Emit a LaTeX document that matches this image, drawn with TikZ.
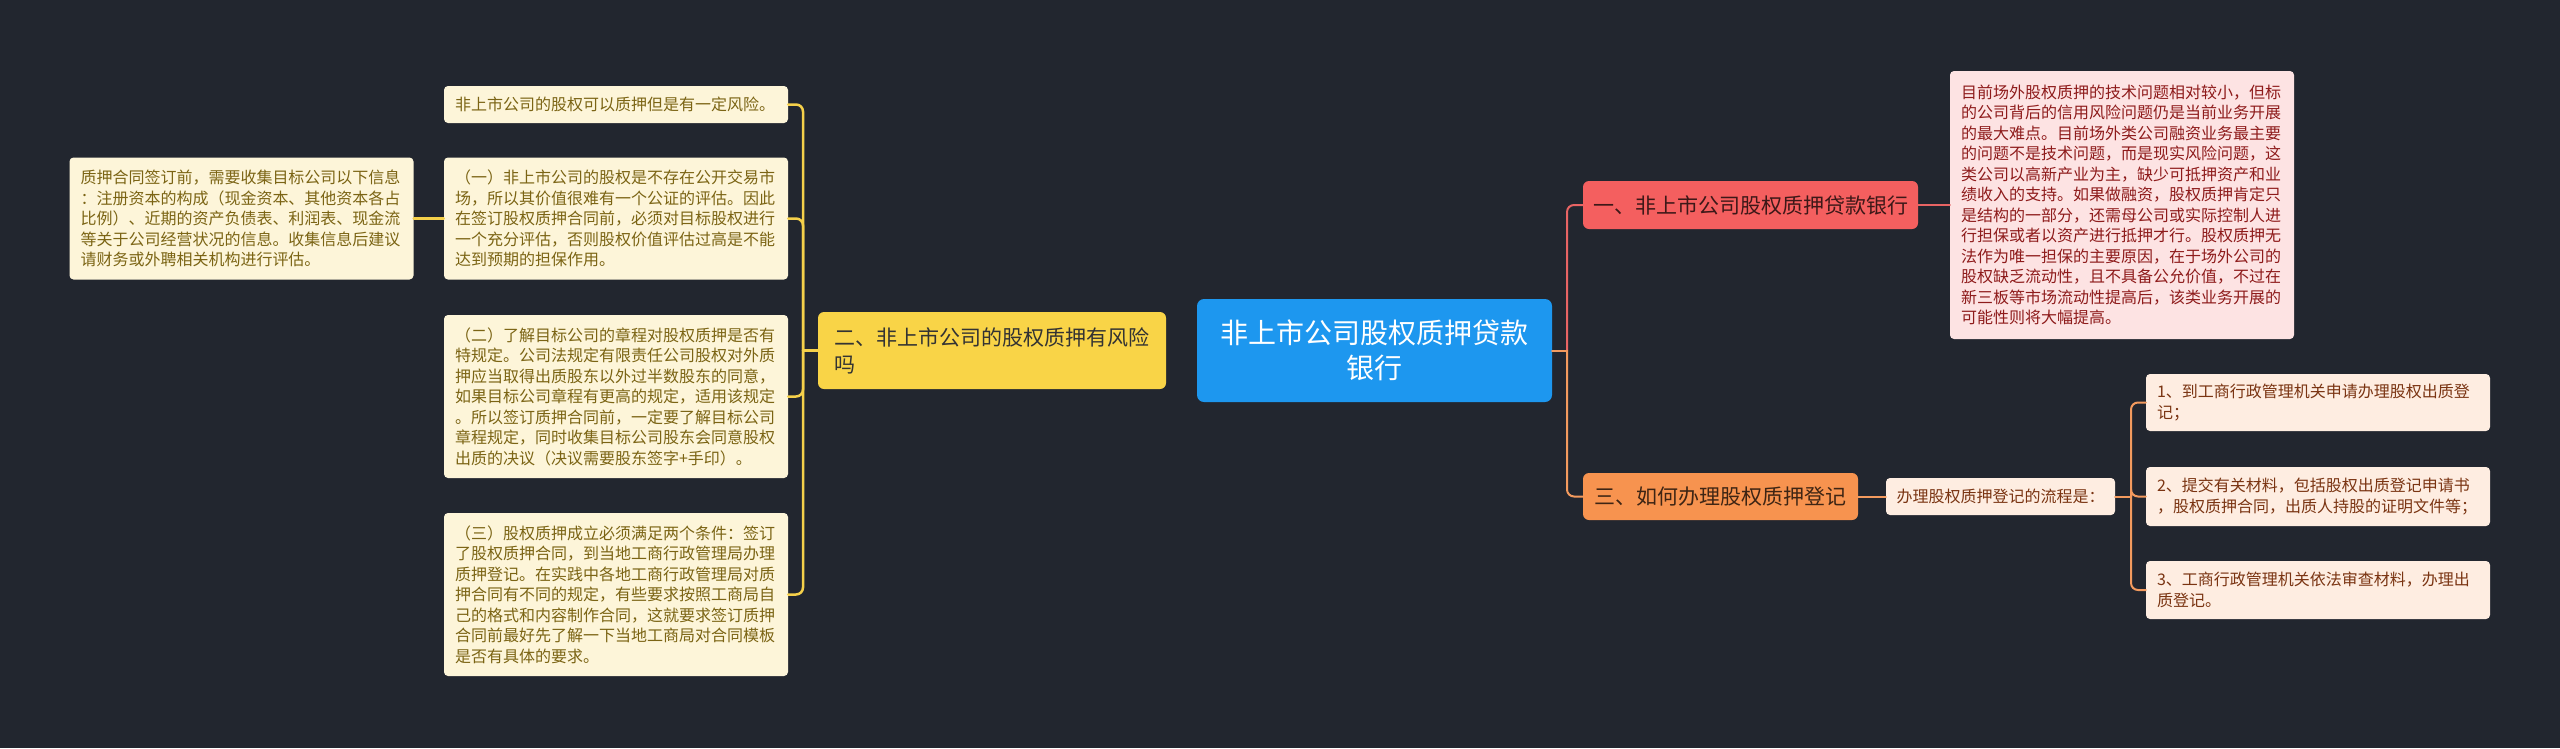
\documentclass[tikz,border=0pt]{standalone}
\usepackage{fontspec}
\setmainfont{Noto Sans CJK SC}
\usepackage{xcolor}
\usepackage{tikz}
\definecolor{mmBack}{HTML}{22262F}
\definecolor{mmBlue}{HTML}{1D97EF}
\definecolor{mmYellow}{HTML}{F9D447}
\definecolor{mmYellowWash}{HTML}{FDF5D9}
\definecolor{mmYellowInk}{HTML}{7B6414}
\definecolor{mmYellowLine}{HTML}{F5D04A}
\definecolor{mmRed}{HTML}{F45F5F}
\definecolor{mmRedWash}{HTML}{FDE3E3}
\definecolor{mmRedInk}{HTML}{8E1B1B}
\definecolor{mmRedLine}{HTML}{E86464}
\definecolor{mmOrange}{HTML}{F7934F}
\definecolor{mmOrangeWash}{HTML}{FEEDE1}
\definecolor{mmOrangeInk}{HTML}{7A3412}
\definecolor{mmOrangeLine}{HTML}{F39A5E}
\tikzset{
  mm diagram/.style={line cap=round, line join=round},
  mm box/.style={rounded corners=4pt, inner sep=0pt, align=left},
  mm root/.style={mm box, fill=mmBlue, text=white, rounded corners=7pt,
    align=center, font=\fontsize{28}{35}\selectfont,
    minimum width=355pt, minimum height=103pt},
  mm branch/.style={mm box, rounded corners=6pt, font=\fontsize{21}{27}\selectfont},
  mm leaf/.style={mm box, font=\fontsize{16}{20.5}\selectfont,
    text width=322pt, inner xsep=11pt},
  mm yellow leaf/.style={mm leaf, fill=mmYellowWash, text=mmYellowInk},
  mm red leaf/.style={mm leaf, fill=mmRedWash, text=mmRedInk},
  mm orange leaf/.style={mm leaf, fill=mmOrangeWash, text=mmOrangeInk},
  mm link/.style={line width=2pt, rounded corners=7pt}
}

\begin{document}
\begin{tikzpicture}[mm diagram,x=1pt,y=-1pt]
\fill[mmBack] (0,0) rectangle (2560,748);
\useasboundingbox (0,0) rectangle (2560,748);
% centre
\node[mm root] (root) at (1374.5,350.5) {非上市公司股权质押贷款\\银行};
% left side
\node[mm branch, fill=mmYellow, text=black!80, minimum width=348pt, minimum height=77pt]
  (risk) at (992,350.5) {二、非上市公司的股权质押有风险\\吗};
\node[mm yellow leaf, minimum height=37pt] (l1) at (616,104.5)
  {非上市公司的股权可以质押但是有一定风险。};
\node[mm yellow leaf, minimum height=122pt] (l2) at (616,218.5)
  {（一）非上市公司的股权是不存在公开交易市\\场，所以其价值很难有一个公证的评估。因此\\在签订股权质押合同前，必须对目标股权进行\\一个充分评估，否则股权价值评估过高是不能\\达到预期的担保作用。};
\node[mm yellow leaf, minimum height=163pt] (l3) at (616,396.5)
  {（二）了解目标公司的章程对股权质押是否有\\特规定。公司法规定有限责任公司股权对外质\\押应当取得出质股东以外过半数股东的同意，\\如果目标公司章程有更高的规定，适用该规定\\。所以签订质押合同前，一定要了解目标公司\\章程规定，同时收集目标公司股东会同意股权\\出质的决议（决议需要股东签字+手印）。};
\node[mm yellow leaf, minimum height=163pt] (l4) at (616,594.5)
  {（三）股权质押成立必须满足两个条件：签订\\了股权质押合同，到当地工商行政管理局办理\\质押登记。在实践中各地工商行政管理局对质\\押合同有不同的规定，有些要求按照工商局自\\己的格式和内容制作合同，这就要求签订质押\\合同前最好先了解一下当地工商局对合同模板\\是否有具体的要求。};
\node[mm yellow leaf, minimum height=122pt] (info) at (241.5,218.5)
  {质押合同签订前，需要收集目标公司以下信息\\：注册资本的构成（现金资本、其他资本各占\\比例）、近期的资产负债表、利润表、现金流\\等关于公司经营状况的信息。收集信息后建议\\请财务或外聘相关机构进行评估。};
% right side
\node[mm branch, fill=mmRed, text=black!75!mmRed, minimum width=335pt, minimum height=48pt]
  (bank) at (1750.5,205) {一、非上市公司股权质押贷款银行};
\node[mm red leaf, minimum height=268pt] (bankinfo) at (2122,205)
  {目前场外股权质押的技术问题相对较小，但标\\的公司背后的信用风险问题仍是当前业务开展\\的最大难点。目前场外类公司融资业务最主要\\的问题不是技术问题，而是现实风险问题，这\\类公司以高新产业为主，缺少可抵押资产和业\\绩收入的支持。如果做融资，股权质押肯定只\\是结构的一部分，还需母公司或实际控制人进\\行担保或者以资产进行抵押才行。股权质押无\\法作为唯一担保的主要原因，在于场外公司的\\股权缺乏流动性，且不具备公允价值，不过在\\新三板等市场流动性提高后，该类业务开展的\\可能性则将大幅提高。};
\node[mm branch, fill=mmOrange, text=black!75!mmOrange, minimum width=275pt, minimum height=47pt]
  (howto) at (1720.5,496.5) {三、如何办理股权质押登记};
\node[mm box, fill=mmOrangeWash, text=mmOrangeInk, font=\fontsize{16}{20.5}\selectfont,
  minimum width=229pt, minimum height=37pt] (steps) at (2000.5,496.5)
  {办理股权质押登记的流程是：};
\node[mm orange leaf, minimum height=57pt] (s1) at (2318,402.5)
  {1、到工商行政管理机关申请办理股权出质登\\记；};
\node[mm orange leaf, minimum height=59pt] (s2) at (2318,496.5)
  {2、提交有关材料，包括股权出质登记申请书\\，股权质押合同，出质人持股的证明文件等；};
\node[mm orange leaf, minimum height=58pt] (s3) at (2318,590)
  {3、工商行政管理机关依法审查材料，办理出\\质登记。};
% connectors
\coordinate (yj) at (803,350.5);
\draw[mm link, draw=mmYellowLine, line width=2.5pt] (risk.west) -- (yj);
\foreach \n in {l1,l2,l3,l4}
  \draw[mm link, draw=mmYellowLine, line width=2.5pt] (yj) |- (\n.east);
\draw[mm link, draw=mmYellowLine, line width=2.5pt] (l2.west) -- (info.east);
\coordinate (rj) at (1567,350.5);
\draw[mm link, draw=mmOrangeLine] (root.east) -- (rj);
\draw[mm link, draw=mmRedLine] (rj) |- (bank.west);
\draw[mm link, draw=mmOrangeLine] (rj) |- (howto.west);
\draw[mm link, draw=mmRedLine] (bank.east) -- (bankinfo.west);
\draw[mm link, draw=mmOrangeLine] (howto.east) -- (steps.west);
\coordinate (oj) at (2131,496.5);
\draw[mm link, draw=mmOrangeLine] (steps.east) -- (oj);
\foreach \s in {s1,s2,s3}
  \draw[mm link, draw=mmOrangeLine] (oj) |- (\s.west);
\end{tikzpicture}
\end{document}
